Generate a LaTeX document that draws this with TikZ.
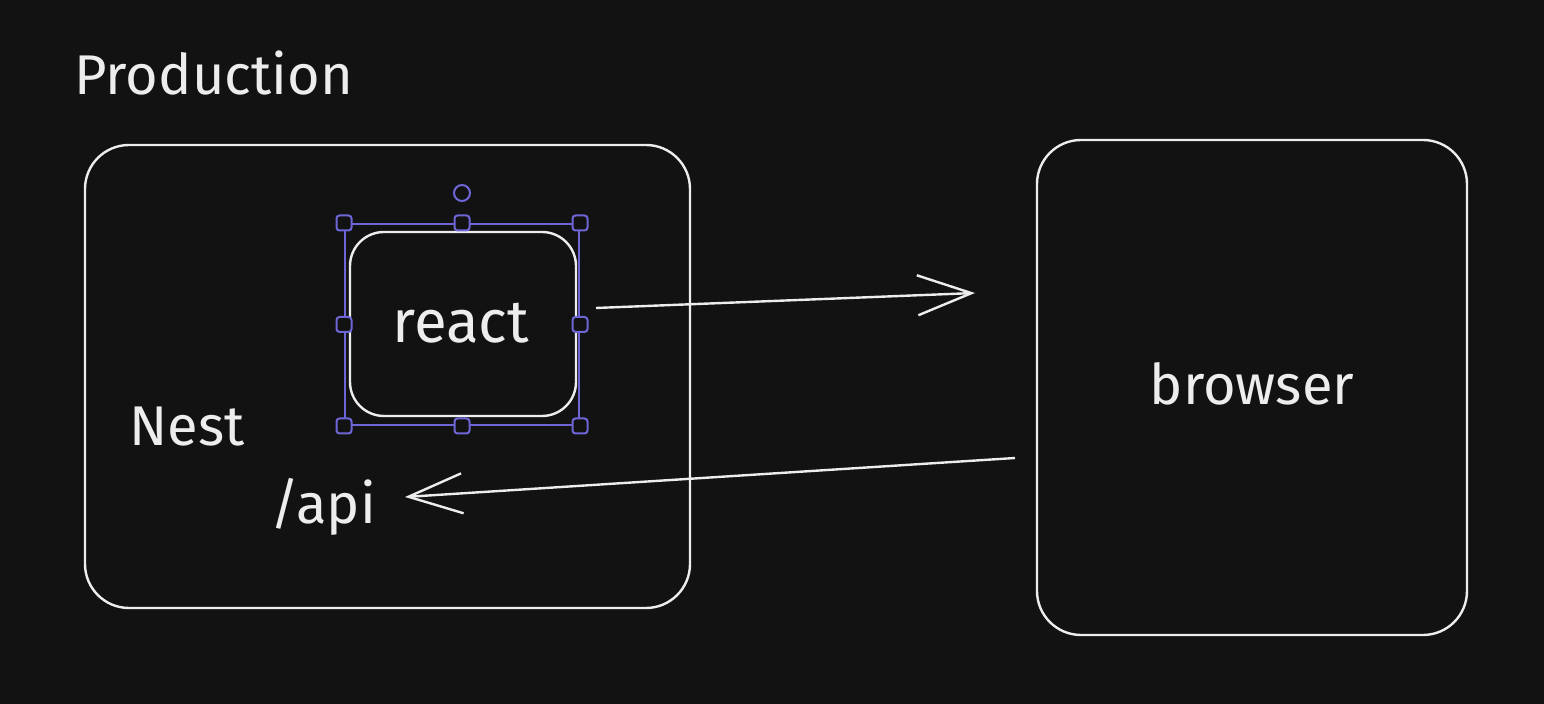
\documentclass[tikz,border=0pt]{standalone}
\usepackage{fontspec}
\setmainfont{Fira Sans}
\usetikzlibrary{arrows.meta}
\definecolor{bg}{HTML}{121212}
\definecolor{sel}{HTML}{6E66D6}
\definecolor{ink}{HTML}{EDEDED}
\tikzset{
  sketchbox/.style={draw=ink, line width=1.2pt, rounded corners=22pt, inner sep=0pt},
  label/.style={text=ink, font=\fontsize{28}{30}\selectfont, inner sep=0pt},
  handle/.style={draw=sel, fill=bg, line width=1pt, minimum size=7.5pt, inner sep=0pt, rounded corners=1.5pt},
  selbox/.style={draw=sel, line width=1pt, inner sep=0pt},
  conn/.style={draw=ink, line width=1.2pt, -{Straight Barb[length=27pt, width=20pt, line width=1.2pt]}},
}
\begin{document}
\begin{tikzpicture}[x=0.5pt, y=-0.5pt]
\useasboundingbox[fill=bg] (0,0) rectangle (1544,704);
% boxes
\node[sketchbox, minimum width=302.5pt, minimum height=231.5pt] (nest) at (387.5,376.5) {};
\node[sketchbox, minimum width=215pt, minimum height=247.5pt] (browserbox) at (1252,387.5) {};
\node[sketchbox, rounded corners=17pt, minimum width=113pt, minimum height=92pt] (reactbox) at (463,324) {};
% selection
\node[selbox, minimum width=117pt, minimum height=100.5pt] (sel) at (462,324.5) {};
\foreach \a in {north west, north, north east, east, south east, south, south west, west}
  \node[handle] at (sel.\a) {};
\node[draw=sel, fill=bg, line width=1pt, circle, minimum size=8pt, inner sep=0pt] (rot) at (462,193) {};
% texts
\node[label, anchor=base west] (prod) at (74,95) {Production};
\node[label, font=\fontsize{30}{32}\selectfont] (react) at (461,323) {react};
\node[label] (nestlbl) at (187,427) {Nest};
\node[label] (api) at (323,507) {/api};
\node[label] (browser) at (1252,384) {browser};
% connectors
\coordinate (a1s) at (596,308);
\coordinate (a1e) at (975,293);
\coordinate (a2s) at (1015,458);
\coordinate (a2e) at (405,497);
\draw[conn] (a1s) -- (a1e);
\draw[conn] (a2s) -- (a2e);
\end{tikzpicture}
\end{document}
